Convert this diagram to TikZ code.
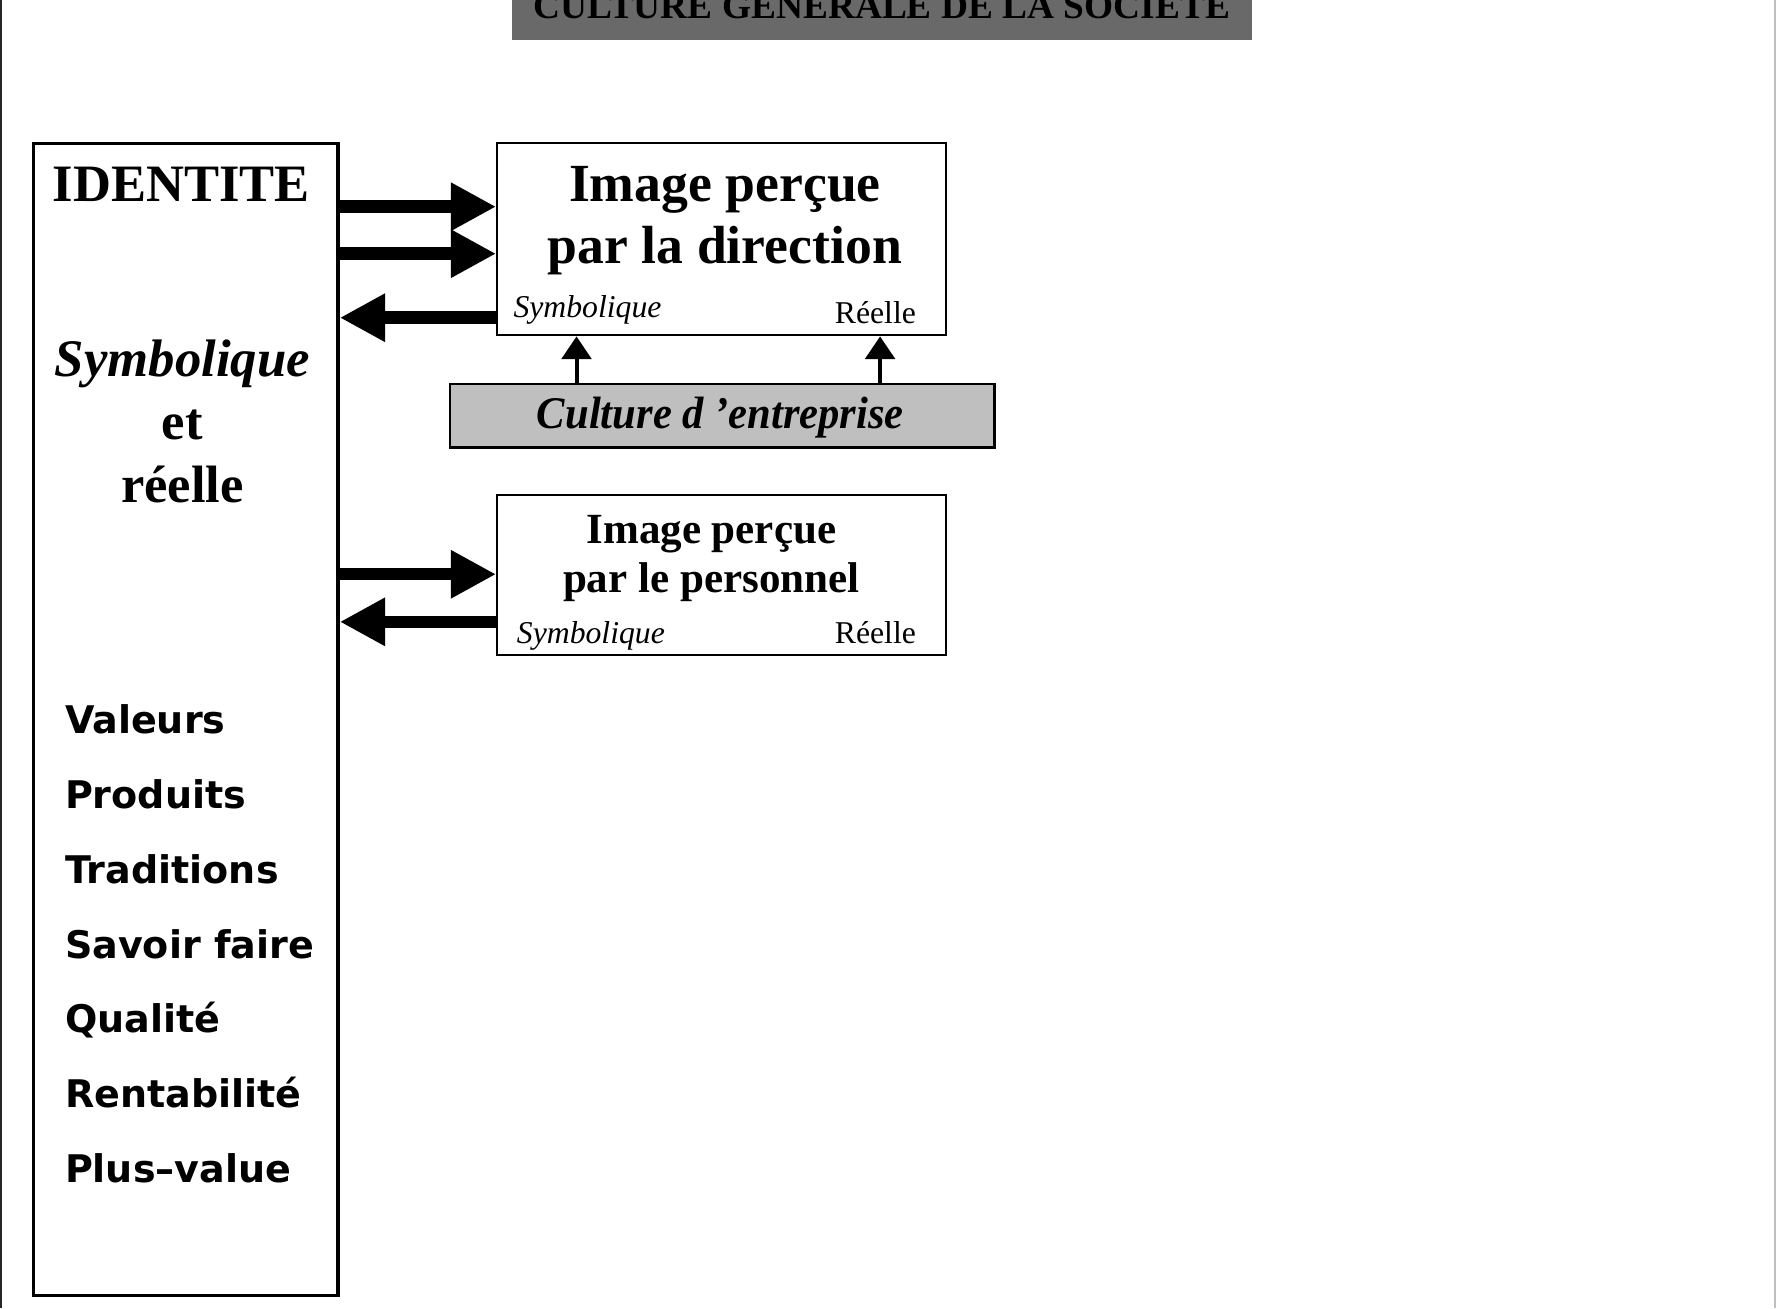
\documentclass[tikz,border=0pt]{standalone}
\usepackage{fontspec}
\setmainfont{Liberation Serif}
\newfontfamily\dvsans{DejaVu Sans}
\usetikzlibrary{arrows.meta}
\tikzset{
  frame/.style={draw, line width=1pt, inner sep=0pt, anchor=north west},
  bigarrow/.style={line width=5.5pt, -{Triangle[length=20pt,width=20pt]}},
  smallarrow/.style={line width=1.75pt, -{Triangle[length=10pt,width=13pt]}},
  big/.style={anchor=base, inner sep=0pt, font=\fontsize{23.2pt}{27pt}\selectfont\bfseries},
  imgtxt/.style={anchor=base, inner sep=0pt, font=\fontsize{23.7pt}{28pt}\selectfont\bfseries},
  imgtxtb/.style={anchor=base, inner sep=0pt, font=\fontsize{19pt}{23pt}\selectfont\bfseries},
  smallsym/.style={anchor=base west, inner sep=0pt, font=\fontsize{14pt}{16pt}\selectfont\itshape},
  smallreel/.style={anchor=base east, inner sep=0pt, font=\fontsize{14pt}{16pt}\selectfont},
  item/.style={anchor=base west, inner sep=0pt, font=\fontsize{16.8pt}{20pt}\selectfont\dvsans\bfseries}
}
\begin{document}
\begin{tikzpicture}[x=0.5pt,y=-0.5pt]
\useasboundingbox (0,0) rectangle (1568,1155);
\clip (0,0) rectangle (1568,1155);
\fill[white] (0,0) rectangle (1568,1155);
% page edges
\draw[line width=1pt, black!85] (1,0) -- (1,1155);
\draw[line width=1pt, black!25] (1567,0) -- (1567,1155);
% title
\node[anchor=north west, fill=black!59, minimum width=326.5pt, minimum height=22.5pt, inner sep=0pt] (titlebox) at (452,-10) {};
\node[anchor=base, inner sep=0pt, font=\fontsize{16.5pt}{19pt}\selectfont\bfseries] (title) at (778.5,16) {CULTURE GENERALE DE LA SOCIETE};
% boxes
\node[frame, line width=1.5pt, minimum width=134.5pt, minimum height=508.5pt] (idbox) at (28,125) {};
\node[frame, minimum width=198pt, minimum height=85pt] (dir) at (438,125) {};
\node[frame, fill=black!25, minimum width=240.5pt, minimum height=28pt] (cult) at (396,338) {};
\node[frame, minimum width=198pt, minimum height=70.5pt] (pers) at (438,436) {};
% identity texts
\node[big] (ident) at (160,178) {IDENTITE};
\node[big, font=\fontsize{23.3pt}{27pt}\selectfont\bfseries\itshape] (sym) at (161,332) {Symbolique};
\node[big] (et) at (161,388) {et};
\node[big] (reel) at (161,444) {réelle};
\node[item] (i1) at (57,648) {Valeurs};
\node[item] (i2) at (57,714) {Produits};
\node[item] (i3) at (57,780) {Traditions};
\node[item] (i4) at (57,846) {Savoir faire};
\node[item] (i5) at (57,912) {Qualité};
\node[item] (i6) at (57,978) {Rentabilité};
\node[item] (i7) at (57,1044) {Plus–value};
% direction box texts
\node[imgtxt] (d1) at (640,178) {Image perçue};
\node[imgtxt] (d2) at (640,233) {par la direction};
\node[smallsym] (dsym) at (453,280) {Symbolique};
\node[smallreel] (dreel) at (809,286) {Réelle};
% culture text
\node[anchor=base, inner sep=0pt, font=\fontsize{20pt}{24pt}\selectfont\bfseries\itshape] (ctxt) at (636,378) {\scalebox{0.94}[1]{Culture d ’entreprise}};
% personnel box texts
\node[imgtxtb] (p1) at (628,480) {Image perçue};
\node[imgtxtb] (p2) at (628,523) {par le personnel};
\node[smallsym] (psym) at (456,568) {Symbolique};
\node[smallreel] (preel) at (809,568) {Réelle};
% helper coordinates
\coordinate (ya) at (0,182.5);
\coordinate (yb) at (0,224);
\coordinate (yc) at (0,280.5);
\coordinate (yd) at (0,507);
\coordinate (ye) at (0,549);
\coordinate (xa) at (509,0);
\coordinate (xb) at (777,0);
% arrows
\draw[bigarrow] (idbox.east |- ya) -- (dir.west |- ya);
\draw[bigarrow] (idbox.east |- yb) -- (dir.west |- yb);
\draw[bigarrow] (dir.west |- yc) -- (idbox.east |- yc);
\draw[bigarrow] (idbox.east |- yd) -- (pers.west |- yd);
\draw[bigarrow] (pers.west |- ye) -- (idbox.east |- ye);
\draw[smallarrow] (cult.north -| xa) -- (dir.south -| xa);
\draw[smallarrow] (cult.north -| xb) -- (dir.south -| xb);
\end{tikzpicture}
\end{document}
